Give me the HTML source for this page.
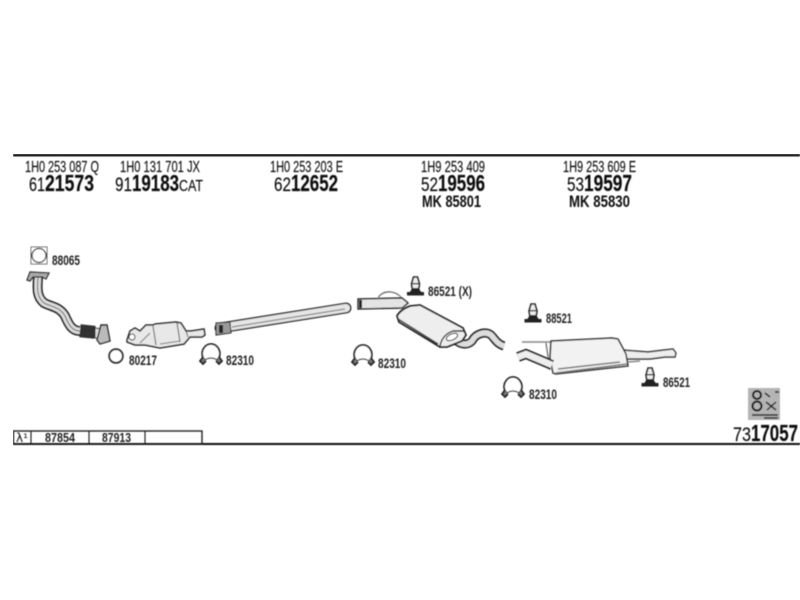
<!DOCTYPE html>
<html><head><meta charset="utf-8"><style>
html,body{margin:0;padding:0;background:#fff}
svg{display:block}
text{font-family:"Liberation Sans",sans-serif;fill:#111}
.p{font-size:16px;stroke:#111;stroke-width:.15}
.r{font-size:19px;stroke:#111;stroke-width:.15}
.b{font-size:23px;font-weight:bold;stroke:#111;stroke-width:.2}
.m{font-size:17px;font-weight:bold}
.l{font-size:14px;font-weight:bold;fill:#222}
</style></head><body>
<svg width="800" height="600" viewBox="0 0 800 600" xmlns="http://www.w3.org/2000/svg">
<defs>
<filter id="s" x="0" y="0" width="100%" height="100%"><feGaussianBlur stdDeviation="0.5"/></filter>
<g id="clamp" fill="none" stroke="#222">
<path d="M-6,6 C-12,1 -8,-10 0,-10 C8,-10 12,1 6,6" stroke-width="1.800" fill="#fff"/>
<path d="M-8,3 L-11,7 L-8,10 L-5,7 M8,3 L11,7 L8,10 L5,7" stroke-width="1.800" fill="#777"/>
<path d="M-6,6 Q0,2 6,6" stroke-width="1.200"/>
</g>
<g id="hang">
<path d="M-2,-10 L2,-10 L4,-3 L3,3 L-3,3 L-4,-3Z" fill="#eee" stroke="#222" stroke-width="1.600"/>
<rect x="-3" y="-4" width="6" height="1.500" fill="#444"/>
<path d="M-7,7 L-3,1 L3,1 L7,7Z" fill="#222"/>
<rect x="-8.500" y="5" width="17" height="3.500" fill="#222"/>
</g>
</defs>
<rect width="800" height="600" fill="#fff"/>
<g filter="url(#s)">
<rect x="13" y="154" width="787" height="2.400" fill="#111"/>
<rect x="13" y="443" width="787" height="2" fill="#111"/>

<text class="p" x="25" y="172" textLength="74" lengthAdjust="spacingAndGlyphs">1H0 253 087 Q</text>
<text class="r" x="29" y="191" textLength="16" lengthAdjust="spacingAndGlyphs">61</text>
<text class="b" x="45" y="191" textLength="49" lengthAdjust="spacingAndGlyphs">21573</text>

<text class="p" x="120" y="172" textLength="80" lengthAdjust="spacingAndGlyphs">1H0 131 701 JX</text>
<text class="r" x="115" y="191" textLength="17" lengthAdjust="spacingAndGlyphs">91</text>
<text class="b" x="132" y="191" textLength="47" lengthAdjust="spacingAndGlyphs">19183</text>
<text class="r" x="179" y="191" textLength="24" lengthAdjust="spacingAndGlyphs" style="font-size:16px">CAT</text>

<text class="p" x="270" y="172" textLength="73" lengthAdjust="spacingAndGlyphs">1H0 253 203 E</text>
<text class="r" x="274" y="191" textLength="17" lengthAdjust="spacingAndGlyphs">62</text>
<text class="b" x="291" y="191" textLength="47" lengthAdjust="spacingAndGlyphs">12652</text>

<text class="p" x="421" y="172" textLength="64" lengthAdjust="spacingAndGlyphs">1H9 253 409</text>
<text class="r" x="421" y="191" textLength="17" lengthAdjust="spacingAndGlyphs">52</text>
<text class="b" x="438" y="191" textLength="47" lengthAdjust="spacingAndGlyphs">19596</text>
<text class="m" x="422" y="207" textLength="59" lengthAdjust="spacingAndGlyphs">MK  85801</text>

<text class="p" x="563" y="172" textLength="73" lengthAdjust="spacingAndGlyphs">1H9 253 609 E</text>
<text class="r" x="567" y="191" textLength="17" lengthAdjust="spacingAndGlyphs">53</text>
<text class="b" x="584" y="191" textLength="48" lengthAdjust="spacingAndGlyphs">19597</text>
<text class="m" x="569" y="207" textLength="61" lengthAdjust="spacingAndGlyphs">MK  85830</text>

<!-- gasket -->
<rect x="31" y="247" width="16" height="17" fill="#fff" stroke="#666" stroke-width="1"/>
<circle cx="39" cy="255.500" r="7" fill="#fff" stroke="#222" stroke-width="1.200"/>
<text class="l" x="52" y="265" textLength="28" lengthAdjust="spacingAndGlyphs">88065</text>

<!-- front pipe -->
<path d="M38,277 C37,290 37,297 44,303 C52,307 60,307 65,316 C69,325 72,331 80,331" fill="none" stroke="#222" stroke-width="10"/>
<path d="M38,277 C37,290 37,297 44,303 C52,307 60,307 65,316 C69,325 72,331 80,331" fill="none" stroke="#ddd" stroke-width="6.500"/>
<path d="M38,277 C37,290 37,297 44,303 C52,307 60,307 65,316 C69,325 72,331 80,331" fill="none" stroke="#666" stroke-width="1"/>
<path d="M27,280 L30,272 L49,273 L46,279 L42,277 L33,277 L30,281Z" fill="#aaa" stroke="#222" stroke-width="1.200"/>
<rect x="80" y="325" width="15" height="13" fill="#333" transform="rotate(6 87 331)"/>
<path d="M95,328 L101,329 L101,338 L95,338Z" fill="#ddd" stroke="#222"/>
<path d="M101,325 L107,325 L110,341 L100,344 L97,340Z" fill="#bbb" stroke="#222" stroke-width="1.400"/>

<!-- catalytic converter -->
<path d="M127,340 L130,331 L135,328 L140,331 L146,325 L153,325 L155,324 L176,322 L181,323 L186,331 L191,331 L204,329 L205,335 L202,337 L190,337 L184,344 L160,348 L145,345 L135,345 L127,342Z" fill="#e8e8e8" stroke="#222" stroke-width="1.500"/>
<path d="M153,326 L156,345 M177,323 L180,342 M186,331 L188,337" fill="none" stroke="#555" stroke-width="1"/>
<circle cx="132" cy="337" r="3" fill="#fff" stroke="#333"/>
<path d="M140,343 L150,333 M160,344 L180,341" stroke="#777" fill="none"/>
<!-- ring -->
<circle cx="116" cy="356" r="6.800" fill="#fff" stroke="#222" stroke-width="1.800"/>
<text class="l" x="129" y="365" textLength="28" lengthAdjust="spacingAndGlyphs">80217</text>
<use href="#clamp" x="211" y="354"/>
<text class="l" x="226" y="365" textLength="28" lengthAdjust="spacingAndGlyphs">82310</text>

<!-- intermediate pipe -->
<path d="M220,328 L346,308" stroke="#333" stroke-width="11" stroke-linecap="round"/>
<path d="M220,328 L346,308" stroke="#e6e6e6" stroke-width="8" stroke-linecap="round"/>
<path d="M232,327 L345,309" stroke="#888" stroke-width="1.200"/>
<path d="M216,323 L230,322 L231,333 L216,335Z" fill="#999" stroke="#222"/>
<rect x="219" y="325" width="4" height="8" fill="#222"/>

<!-- centre muffler -->
<path d="M358,299 L402,298 L408,303 L402,308 L358,309Z" fill="#e4e4e4" stroke="#222" stroke-width="1.400"/>
<rect x="359" y="300" width="3" height="8" fill="#222"/>
<path d="M378,299 C380,291 393,289 401,297" fill="none" stroke="#666" stroke-width="1.200"/>
<path d="M454,339 C462,346 468,345 472,341 C476,333 486,331 491,335 C495,339 497,344 504,346" fill="none" stroke="#222" stroke-width="9"/>
<path d="M454,339 C462,346 468,345 472,341 C476,333 486,331 491,335 C495,339 497,344 504,346" fill="none" stroke="#ddd" stroke-width="5.500"/>
<path d="M397,316 Q400,310 410,306 L420,305 L463,328 L466,335 L462,341 L447,347 L440,347 L399,322Z" fill="#eee" stroke="#222" stroke-width="1.800"/>
<path d="M398,319 L438,344 M440,346 Q442,335 453,331 L464,331" fill="none" stroke="#333" stroke-width="1.400"/>
<ellipse cx="452" cy="337" rx="6" ry="3" fill="#fff" stroke="#222" transform="rotate(-25 452 337)"/>
<use href="#hang" x="415.500" y="287"/>
<text class="l" x="428" y="296" textLength="44" lengthAdjust="spacingAndGlyphs">86521 (X)</text>
<use href="#clamp" x="363" y="355"/>
<text class="l" x="378" y="368" textLength="28" lengthAdjust="spacingAndGlyphs">82310</text>

<!-- rear muffler -->
<use href="#hang" x="533" y="314"/>
<text class="l" x="546" y="323" textLength="26" lengthAdjust="spacingAndGlyphs">88521</text>
<path d="M622,350 L648,352 L664,350 L673,349 L676,353 L675,357 L665,357 L650,359 L622,359Z" fill="#eee" stroke="#333" stroke-width="1.400"/>
<path d="M522,342 L552,342" stroke="#888" stroke-width="1.600"/>
<path d="M551,341 L612,338 L618,339 L626,354 L628,366 L556,374 L553,373 L550,358Z" fill="#f2f2f2" stroke="#333" stroke-width="1.500"/>
<path d="M546,343 L550,370 M556,373 L627,364 M558,369 L620,362" fill="none" stroke="#777" stroke-width="1.400"/>
<path d="M628,362 L640,361" stroke="#888" stroke-width="1.500"/>
<path d="M518,357 L526,354 L552,365" fill="none" stroke="#222" stroke-width="10"/>
<path d="M518,357 L526,354 L552,365" fill="none" stroke="#eee" stroke-width="6.500"/>
<use href="#hang" x="650" y="378"/>
<text class="l" x="663" y="387" textLength="27" lengthAdjust="spacingAndGlyphs">86521</text>
<use href="#clamp" x="513" y="387"/>
<text class="l" x="529" y="399" textLength="28" lengthAdjust="spacingAndGlyphs">82310</text>

<!-- table -->
<rect x="13.500" y="431" width="188.500" height="13" fill="none" stroke="#222" stroke-width="1.400"/>
<path d="M31,431 V444 M89,431 V444 M145,431 V444" stroke="#222" stroke-width="1.200"/>
<text x="16" y="442" style="font-size:12px;font-family:'DejaVu Sans',sans-serif">λ¹</text>
<text class="l" x="45" y="442" textLength="30" lengthAdjust="spacingAndGlyphs" style="font-size:13px">87854</text>
<text class="l" x="102" y="442" textLength="29" lengthAdjust="spacingAndGlyphs" style="font-size:13px">87913</text>

<!-- info box -->
<rect x="748" y="388" width="32" height="32" fill="#b4b4b4"/>
<circle cx="757" cy="395" r="4" fill="none" stroke="#111" stroke-width="2"/>
<circle cx="757" cy="406" r="4.500" fill="none" stroke="#111" stroke-width="2"/>
<path d="M765,393 L770,397 M775,392 H779 M766,402 L776,410 M776,402 L767,410 M752,415 H778 M764,418 H778" stroke="#222" stroke-width="1.500" fill="none"/>

<text class="r" x="733" y="441" textLength="18" lengthAdjust="spacingAndGlyphs">73</text>
<text class="b" x="751" y="441" textLength="47" lengthAdjust="spacingAndGlyphs">17057</text>
</g>
</svg>
</body></html>
